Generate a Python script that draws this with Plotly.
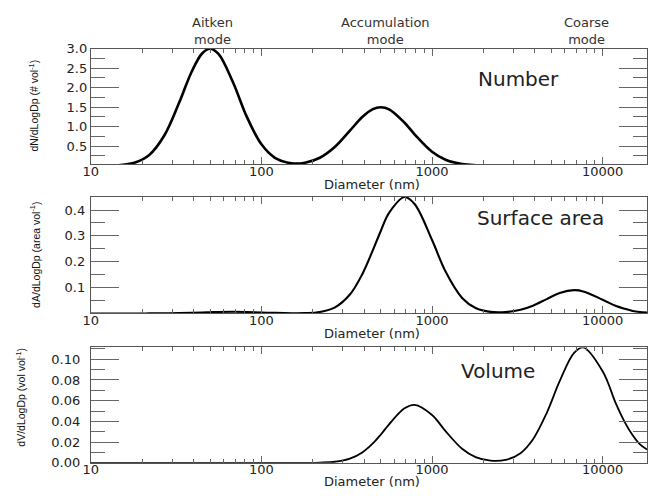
import plotly.graph_objects as go

# Particle diameter grid (nm) shared by the three distributions
diameter_nm = [10, 12, 15, 18, 22, 27, 33, 39, 45, 50, 56, 68, 82, 100, 120,
               150, 180, 220, 270, 330, 390, 450, 500, 560, 690, 790, 1000,
               1200, 1500, 1800, 2200, 2700, 3300, 3900, 4700, 5600, 6800,
               7700, 10000, 12000, 13500, 15000, 16500, 18200]

# dN/dLogDp (# vol^-1)
number_dist = [0.000, 0.002, 0.018, 0.074, 0.274, 0.779, 1.625, 2.410, 2.884,
               3.000, 2.866, 2.145, 1.259, 0.547, 0.202, 0.061, 0.076, 0.203,
               0.485, 0.897, 1.248, 1.451, 1.500, 1.444, 1.101, 0.805, 0.359,
               0.153, 0.041, 0.011, 0.002, 0.000, 0.000, 0.000, 0.000, 0.000,
               0.000, 0.000, 0.000, 0.000, 0.000, 0.000, 0.000, 0.000]

# dA/dLogDp (area vol^-1)
surface_dist = [0.0000, 0.0000, 0.0000, 0.0000, 0.0001, 0.0003, 0.0011, 0.0023,
                0.0037, 0.0048, 0.0058, 0.0065, 0.0056, 0.0037, 0.0020, 0.0009,
                0.0013, 0.0057, 0.0237, 0.0731, 0.1517, 0.2445, 0.318, 0.3889,
                0.450, 0.4232, 0.284, 0.162, 0.060, 0.021, 0.006, 0.0053,
                0.0142, 0.0300, 0.0555, 0.0787, 0.0900, 0.0852, 0.0530, 0.0286,
                0.0178, 0.0098, 0.0055, 0.0030]

# dV/dLogDp (vol vol^-1)
volume_dist = [0.0, 0.0, 0.0, 0.0, 0.0, 0.0, 0.0, 0.0, 0.0, 0.0, 0.0, 0.0,
               0.0, 0.0, 0.0, 0.0, 0.0000, 0.0002, 0.0010, 0.0040, 0.0100,
               0.0187, 0.0271, 0.0372, 0.0526, 0.0560, 0.0462, 0.0306, 0.0135,
               0.0054, 0.0020, 0.0028, 0.0093, 0.0225, 0.0481, 0.0788, 0.1062,
               0.1115, 0.0884, 0.0566, 0.0390, 0.0265, 0.0180, 0.0128]

x_major = [10, 100, 1000, 10000]
x_major_text = ["10", "100", "1000", "10000"]
x_minor = [20, 30, 40, 50, 60, 70, 80, 90,
           200, 300, 400, 500, 600, 700, 800, 900,
           2000, 3000, 4000, 5000, 6000, 7000, 8000, 9000]

number_ticks = [0.5, 1.0, 1.5, 2.0, 2.5, 3.0]
number_ticktext = ["0.5", "1.0", "1.5", "2.0", "2.5", "3.0"]
number_minor = [0.25, 0.75, 1.25, 1.75, 2.25, 2.75]

surface_ticks = [0.1, 0.2, 0.3, 0.4]
surface_ticktext = ["0.1", "0.2", "0.3", "0.4"]
surface_minor = [0.05, 0.15, 0.25, 0.35, 0.45]

volume_ticks = [0.0, 0.02, 0.04, 0.06, 0.08, 0.10]
volume_ticktext = ["0.00", "0.02", "0.04", "0.06", "0.08", "0.10"]
volume_minor = [0.01, 0.03, 0.05, 0.07, 0.09, 0.11]

panel_titles = ["Number", "Surface area", "Volume"]
y_titles = ["dN/dLogDp (# vol<sup>-1</sup>)",
            "dA/dLogDp (area vol<sup>-1</sup>)",
            "dV/dLogDp (vol vol<sup>-1</sup>)"]
mode_names = ["Aitken<br>mode", "Accumulation<br>mode", "Coarse<br>mode"]
x_title = "Diameter (nm)"

W, H = 648, 496
PLOT_LEFT = 84


def py(pix):
    """Convert a pixel row (from top) to paper y."""
    return 1 - pix / H


def px(pix):
    return pix / W


panel_rows = [(43, 162), (196, 316), (351, 470)]
y_ranges = [[0.04, 3.0], [0.0, 0.45], [0.0, 0.1115]]
y_label_gap = [0, 2, 7]
line_widths = [2.6, 2.1, 1.8]

fig = go.Figure()
series = [number_dist, surface_dist, volume_dist]
for i, ydata in enumerate(series):
    sfx = "" if i == 0 else str(i + 1)
    fig.add_trace(go.Scatter(
        x=diameter_nm, y=ydata, mode="lines",
        line=dict(color="black", width=line_widths[i], shape="spline", smoothing=1.0),
        xaxis="x" + sfx, yaxis="y" + sfx, showlegend=False, hoverinfo="skip"))

tick_font = dict(family="DejaVu Sans", size=13, color="#222")
axis_line = "#555"
tick_col = "#666"

yticks = [(number_ticks, number_ticktext, number_minor),
          (surface_ticks, surface_ticktext, surface_minor),
          (volume_ticks, volume_ticktext, volume_minor)]

layout = dict(
    width=W, height=H,
    margin=dict(l=0, r=0, t=0, b=0),
    paper_bgcolor="white", plot_bgcolor="white",
    showlegend=False,
)

for i in range(3):
    sfx = "" if i == 0 else str(i + 1)
    top, bot = panel_rows[i]
    layout["xaxis" + sfx] = dict(
        type="log", range=[1, 4.26], domain=[px(PLOT_LEFT), 1],
        anchor="y" + sfx,
        tickmode="array", tickvals=x_major, ticktext=x_major_text,
        ticks="inside", ticklen=7, tickwidth=1, tickcolor=tick_col,
        minor=dict(tickmode="array", tickvals=x_minor, ticks="inside",
                   ticklen=4, tickwidth=1, tickcolor=tick_col, showgrid=False),
        showline=True, linecolor=axis_line, linewidth=1, mirror="ticks",
        showgrid=False, zeroline=False, tickfont=tick_font,
        ticklabelstandoff=-5,
    )
    tv, tt, mv = yticks[i]
    layout["yaxis" + sfx] = dict(
        range=y_ranges[i], domain=[py(bot), py(top)],
        anchor="x" + sfx,
        tickmode="array", tickvals=tv, ticktext=tt,
        ticks="inside", ticklen=28, tickwidth=1, tickcolor=tick_col,
        minor=dict(tickmode="array", tickvals=mv, ticks="inside",
                   ticklen=14, tickwidth=1, tickcolor=tick_col, showgrid=False),
        showline=True, linecolor=axis_line, linewidth=1, mirror="ticks",
        showgrid=False, zeroline=False, tickfont=tick_font,
        ticklabelstandoff=y_label_gap[i],
    )

fig.update_layout(**layout)

annotations = []
# Mode labels across the top
for name, xc in zip(mode_names, [207, 383, 587]):
    annotations.append(dict(
        text=name, x=px(xc), y=py(25), xref="paper", yref="paper",
        xanchor="center", yanchor="middle", showarrow=False,
        font=dict(family="DejaVu Sans", size=13, color="#333")))

# Panel names
for name, (xc, yc) in zip(panel_titles, [(518, 74), (540, 218), (497, 375)]):
    annotations.append(dict(
        text=name, x=px(xc), y=py(yc), xref="paper", yref="paper",
        xanchor="center", yanchor="middle", showarrow=False,
        font=dict(family="DejaVu Sans", size=20, color="#222")))

# Diameter titles under each panel
for yc in [183, 337, 489]:
    annotations.append(dict(
        text=x_title, x=px(369), y=py(yc), xref="paper", yref="paper",
        xanchor="center", yanchor="middle", showarrow=False,
        font=dict(family="DejaVu Sans", size=13, color="#222")))

# Vertical axis titles
for title, (xc, yc) in zip(y_titles, [(26, 102), (27, 256), (13, 402)]):
    annotations.append(dict(
        text=title, x=px(xc), y=py(yc), xref="paper", yref="paper",
        xanchor="center", yanchor="middle", showarrow=False, textangle=-90,
        font=dict(family="Liberation Sans", size=10.5, color="#111")))

fig.update_layout(annotations=annotations)

fig.write_html("out.html")
